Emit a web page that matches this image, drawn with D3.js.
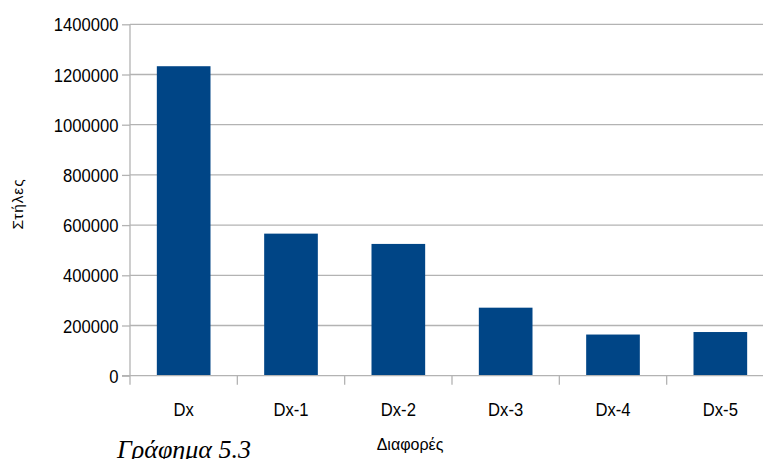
<!DOCTYPE html>
<html>
<head>
<meta charset="utf-8">
<script src="https://cdn.jsdelivr.net/npm/d3@7"></script>
<style>
  body { margin: 0; background: #fff; }
  svg { display: block; }
  text { font-family: "Liberation Sans", Arial, sans-serif; fill: #000; }
  .axis path, .axis line { stroke: #b3b3b3; }
  .grid line { stroke: #b3b3b3; }
</style>
</head>
<body>
<svg id="chart" width="763" height="459"></svg>
<script>
var categories = ["Dx", "Dx-1", "Dx-2", "Dx-3", "Dx-4", "Dx-5"];
var values = [1233000, 566000, 525000, 271000, 164000, 174000];
var yTicks = [0, 200000, 400000, 600000, 800000, 1000000, 1200000, 1400000];

var svg = d3.select("#chart"),
    margin = {top: 24.3, left: 130},
    width = 644,
    height = 351.4,
    squeeze = 0.9;   // the original labels look a bit narrow

var x = d3.scaleBand().domain(categories).range([0, width]).paddingInner(0.5).paddingOuter(0.25);
var xTick = d3.scaleBand().domain(categories).range([0, width]);
var y = d3.scaleLinear().domain([0, 1400000]).range([height, 0]);

var g = svg.append("g")
    .attr("transform", "translate(" + margin.left + "," + margin.top + ")");

// horizontal grid
g.append("g")
    .attr("class", "grid")
  .selectAll("line")
  .data(yTicks.slice(1))
  .enter().append("line")
    .attr("x1", 0)
    .attr("x2", width)
    .attr("y1", function(d) { return y(d); })
    .attr("y2", function(d) { return y(d); })
    .attr("stroke-width", 1.3);

// y axis
var yAxis = g.append("g")
    .attr("class", "axis")
    .call(d3.axisLeft(y).tickValues(yTicks).tickFormat(d3.format("d")).tickSizeInner(8).tickSizeOuter(0).tickPadding(4));
yAxis.select(".domain").remove();
yAxis.selectAll("line").attr("stroke-width", 1.3);
yAxis.selectAll("text")
    .attr("x", 0)
    .attr("dy", "0.36em")
    .attr("transform", "translate(-11.5,0) scale(" + squeeze + ",1)")
    .style("font-size", "18.5px");
yAxis.append("line")
    .attr("x1", 0).attr("x2", 0)
    .attr("y1", 0).attr("y2", height + 9)
    .attr("stroke", "#b3b3b3")
    .attr("stroke-width", 1.3);

// bars
g.selectAll(".bar")
    .data(values)
  .enter().append("rect")
    .attr("class", "bar")
    .attr("x", function(d, i) { return x(categories[i]); })
    .attr("width", x.bandwidth())
    .attr("y", function(d) { return y(d); })
    .attr("height", function(d) { return height - y(d); })
    .attr("fill", "#004586");

// x axis
var xAxis = g.append("g")
    .attr("class", "axis")
    .attr("transform", "translate(0," + height + ")");
xAxis.append("line")
    .attr("x1", -8).attr("x2", width)
    .attr("y1", 0).attr("y2", 0)
    .attr("stroke-width", 1.3);
xAxis.selectAll(".tick")
    .data(categories.slice(1))
  .enter().append("line")
    .attr("class", "tick")
    .attr("x1", function(d) { return xTick(d); })
    .attr("x2", function(d) { return xTick(d); })
    .attr("y1", 0)
    .attr("y2", 9)
    .attr("stroke-width", 1.3);
xAxis.selectAll(".label")
    .data(categories)
  .enter().append("text")
    .attr("class", "label")
    .attr("transform", function(d) {
      return "translate(" + (xTick(d) + xTick.bandwidth() / 2) + ",40) scale(" + squeeze + ",1)";
    })
    .attr("text-anchor", "middle")
    .style("font-size", "18.5px")
    .text(function(d) { return d; });

// axis titles
svg.append("text")
    .attr("transform", "translate(23,204) rotate(-90)")
    .attr("text-anchor", "middle")
    .style("font-size", "15.5px")
    .style("letter-spacing", "0.9px")
    .text("Στήλες");

svg.append("text")
    .attr("x", 410)
    .attr("y", 450)
    .attr("text-anchor", "middle")
    .style("font-size", "16px")
    .text("Διαφορές");

svg.append("text")
    .attr("x", 117)
    .attr("y", 458)
    .style("font-family", "\"Liberation Serif\", \"Times New Roman\", serif")
    .style("font-style", "italic")
    .style("font-size", "26px")
    .text("Γράφημα 5.3");
</script>
</body>
</html>
